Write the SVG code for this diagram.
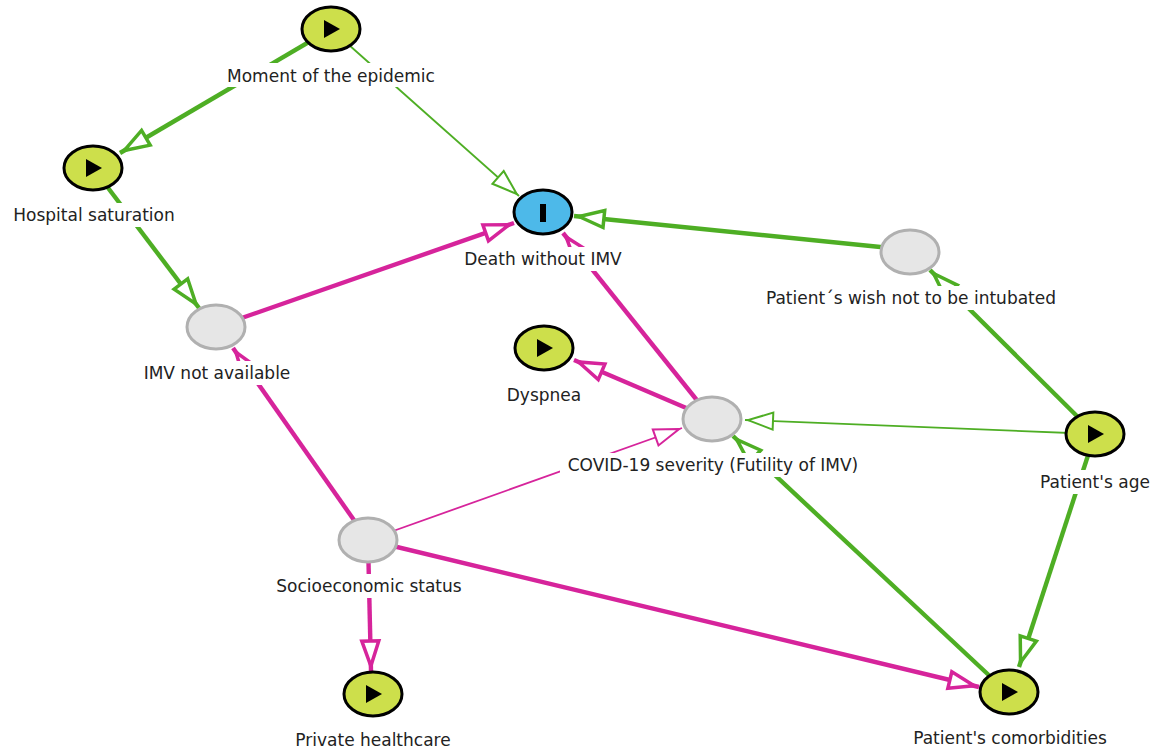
<svg xmlns="http://www.w3.org/2000/svg" width="1153" height="750" viewBox="0 0 1153 750">
<style>
text{font-family:"DejaVu Sans",sans-serif;font-size:17px;fill:#222;text-anchor:middle}
.lb{fill:#fff}
.e{fill:none}
.g{stroke:#4eae24}.m{stroke:#d6249b}
.t{stroke-width:4.4}.n{stroke-width:1.8}
.nd{stroke:#000;stroke-width:3;fill:#cddf4b}
.ex{stroke:#000;stroke-width:3;fill:#4db9e9}
.la{stroke:#b0b0b0;stroke-width:3;fill:#e6e6e6}
.ic{fill:#000}
</style>
<defs>
<marker id="gt" markerUnits="userSpaceOnUse" markerWidth="40" markerHeight="30" refX="32" refY="15" orient="auto" overflow="visible"><path d="M27 15L2 6.5V23.5Z" fill="#fff" stroke="#4eae24" stroke-width="3.5"/></marker>
<marker id="mt" markerUnits="userSpaceOnUse" markerWidth="40" markerHeight="30" refX="32" refY="15" orient="auto" overflow="visible"><path d="M27 15L2 6.5V23.5Z" fill="#fff" stroke="#d6249b" stroke-width="3.5"/></marker>
<marker id="gn" markerUnits="userSpaceOnUse" markerWidth="40" markerHeight="30" refX="30" refY="15" orient="auto" overflow="visible"><path d="M27 15L2 6.5V23.5Z" fill="#fff" stroke="#4eae24" stroke-width="2"/></marker>
<marker id="mn" markerUnits="userSpaceOnUse" markerWidth="40" markerHeight="30" refX="30" refY="15" orient="auto" overflow="visible"><path d="M27 15L2 6.5V23.5Z" fill="#fff" stroke="#d6249b" stroke-width="2"/></marker>
</defs>
<rect width="1153" height="750" fill="#fff"/>
<g id="connectors">
<path class="e g t" d="M331 29L120 153" marker-end="url(#gt)"/>
<path class="e g n" d="M331 29L519 196" marker-end="url(#gn)"/>
<path class="e g t" d="M93 168L199 308" marker-end="url(#gt)"/>
<path class="e m t" d="M216 327L514 223" marker-end="url(#mt)"/>
<path class="e g t" d="M910 250L574 216" marker-end="url(#gt)"/>
<path class="e g t" d="M1095 434L930 270" marker-end="url(#gt)"/>
<path class="e m t" d="M712 419L563 233" marker-end="url(#mt)"/>
<path class="e m t" d="M712 419L574 360" marker-end="url(#mt)"/>
<path class="e g n" d="M1095 434L745 420" marker-end="url(#gn)"/>
<path class="e g t" d="M1009 694L733 436" marker-end="url(#gt)"/>
<path class="e g t" d="M1095 434L1019 667" marker-end="url(#gt)"/>
<path class="e m t" d="M368 540L233 348" marker-end="url(#mt)"/>
<path class="e m n" d="M368 540L682 428" marker-end="url(#mn)"/>
<path class="e m t" d="M368 540L371 671" marker-end="url(#mt)"/>
<path class="e m t" d="M368 540L979 687" marker-end="url(#mt)"/>
</g>
<g id="n-moment"><rect class="lb" x="222" y="63" width="218" height="24"/><ellipse class="nd" cx="331" cy="29" rx="29" ry="22"/><path class="ic" d="M324 20L340 29L324 38Z"/><text x="331" y="82">Moment of the epidemic</text></g>
<g id="n-hospital"><rect class="lb" x="9" y="203" width="170" height="24"/><ellipse class="nd" cx="93" cy="168" rx="29" ry="22"/><path class="ic" d="M86 159L102 168L86 177Z"/><text x="94" y="221">Hospital saturation</text></g>
<g id="n-death"><rect class="lb" x="460" y="247" width="166" height="24"/><ellipse class="ex" cx="543" cy="212" rx="29" ry="22"/><rect class="ic" x="540" y="204" width="6" height="18"/><text x="543" y="265">Death without IMV</text></g>
<g id="n-wish"><rect class="lb" x="760" y="286" width="302" height="24"/><ellipse class="la" cx="910" cy="252" rx="29" ry="22"/><text x="911" y="304">Patient´s wish not to be intubated</text></g>
<g id="n-imv"><rect class="lb" x="140" y="361" width="154" height="24"/><ellipse class="la" cx="216" cy="327" rx="29" ry="22"/><text x="217" y="379">IMV not available</text></g>
<g id="n-dyspnea"><rect class="lb" x="503" y="383" width="82" height="24"/><ellipse class="nd" cx="544" cy="348" rx="29" ry="22"/><path class="ic" d="M537 339L553 348L537 357Z"/><text x="544" y="401">Dyspnea</text></g>
<g id="n-covid"><rect class="lb" x="560" y="453" width="305" height="24"/><ellipse class="la" cx="712" cy="419" rx="29" ry="22"/><text x="713" y="471">COVID-19 severity (Futility of IMV)</text></g>
<g id="n-age"><rect class="lb" x="1038" y="470" width="115" height="24"/><ellipse class="nd" cx="1095" cy="434" rx="29" ry="22"/><path class="ic" d="M1088 425L1104 434L1088 443Z"/><text x="1095" y="488">Patient's age</text></g>
<g id="n-ses"><rect class="lb" x="272" y="574" width="194" height="24"/><ellipse class="la" cx="368" cy="540" rx="29" ry="22"/><text x="369" y="592">Socioeconomic status</text></g>
<g id="n-private"><ellipse class="nd" cx="373" cy="694" rx="29" ry="22"/><path class="ic" d="M366 685L382 694L366 703Z"/><text x="373" y="746">Private healthcare</text></g>
<g id="n-comorb"><ellipse class="nd" cx="1009" cy="692" rx="29" ry="22"/><path class="ic" d="M1002 683L1018 692L1002 701Z"/><text x="1010" y="744">Patient's comorbidities</text></g>
</svg>
